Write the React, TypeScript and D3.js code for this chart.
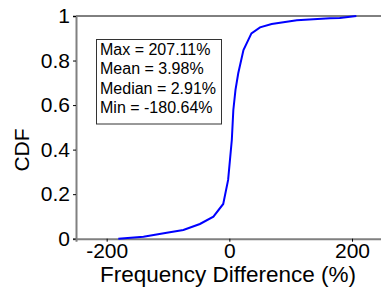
import React, { useEffect, useRef } from "react";
import * as d3 from "d3";

// values
const diffValues = [-181, -140, -102, -75, -48, -26, -10, -2, 4, 6.5, 10, 14.5, 23, 36, 50, 69, 110, 164, 180, 207];
const cdfValues = [0, 0.009, 0.027, 0.039, 0.066, 0.099, 0.156, 0.264, 0.443, 0.578, 0.668, 0.743, 0.847, 0.922, 0.949, 0.964, 0.981, 0.99, 0.991, 1];
const xTicks = [-200, 0, 200];
const yTicks = [0, 0.2, 0.4, 0.6, 0.8, 1];
const statLines = ["Max = 207.11%", "Mean = 3.98%", "Median = 2.91%", "Min = -180.64%"];

function CdfChart() {
    const ref = useRef<SVGSVGElement>(null);

    useEffect(() => {
        const svg = d3.select(ref.current);
        svg.selectAll("*").remove();

        const left = 76, right = 382.7, top = 16, bottom = 238.7;
        const font = "Liberation Sans, Arial, sans-serif";

        const x = d3.scaleLinear().domain([-250, 250]).range([left, right]);
        const y = d3.scaleLinear().domain([0, 1]).range([bottom, top]);

        // top spine (black)
        svg.append("line")
            .attr("x1", left).attr("x2", right)
            .attr("y1", top).attr("y2", top)
            .attr("stroke", "#000").attr("stroke-width", 1);

        // y axis
        const yAxis = svg.append("g")
            .attr("transform", `translate(${left},0)`)
            .call(d3.axisLeft(y).tickValues(yTicks).tickFormat(d => String(d)).tickSize(3).tickPadding(3));
        yAxis.select(".domain").attr("stroke", "#808080").attr("stroke-width", 2);
        yAxis.selectAll("text").style("font-size", "21px").style("font-family", font).attr("fill", "#000");

        // x axis
        const xAxis = svg.append("g")
            .attr("transform", `translate(0,${bottom})`)
            .call(d3.axisBottom(x).tickValues(xTicks).tickFormat(d => String(d)).tickSize(3).tickPadding(1));
        xAxis.select(".domain").attr("stroke", "#808080").attr("stroke-width", 2);
        xAxis.selectAll("text").style("font-size", "21px").style("font-family", font).attr("fill", "#000");

        // CDF curve
        const pts = diffValues.map((v, i) => [v, cdfValues[i]] as [number, number]);
        const line = d3.line<[number, number]>().x(d => x(d[0])).y(d => y(d[1]));
        svg.append("path")
            .attr("d", line(pts))
            .attr("fill", "none")
            .attr("stroke", "#0000ff")
            .attr("stroke-width", 2);

        // stats box
        svg.append("rect")
            .attr("x", 96.5).attr("y", 39.5)
            .attr("width", 125).attr("height", 84.5)
            .attr("fill", "#fff")
            .attr("stroke", "#333").attr("stroke-width", 1);
        statLines.forEach((t, i) => {
            svg.append("text")
                .attr("x", 100).attr("y", 55 + i * 19.4)
                .style("font-size", "16px").style("font-family", font)
                .text(t);
        });

        // axis labels
        svg.append("text")
            .attr("x", 228).attr("y", 282)
            .attr("text-anchor", "middle")
            .style("font-size", "22.5px").style("font-family", font)
            .text("Frequency Difference (%)");
        svg.append("text")
            .attr("transform", "translate(29,150) rotate(-90)")
            .attr("text-anchor", "middle")
            .style("font-size", "21px").style("font-family", font)
            .text("CDF");
    }, []);

    return <svg ref={ref} width={381} height={288} style={{ position: "absolute", left: 0, top: 0, background: "#fff" }}></svg>;
}

export default function App() {
    return <CdfChart />;
}
